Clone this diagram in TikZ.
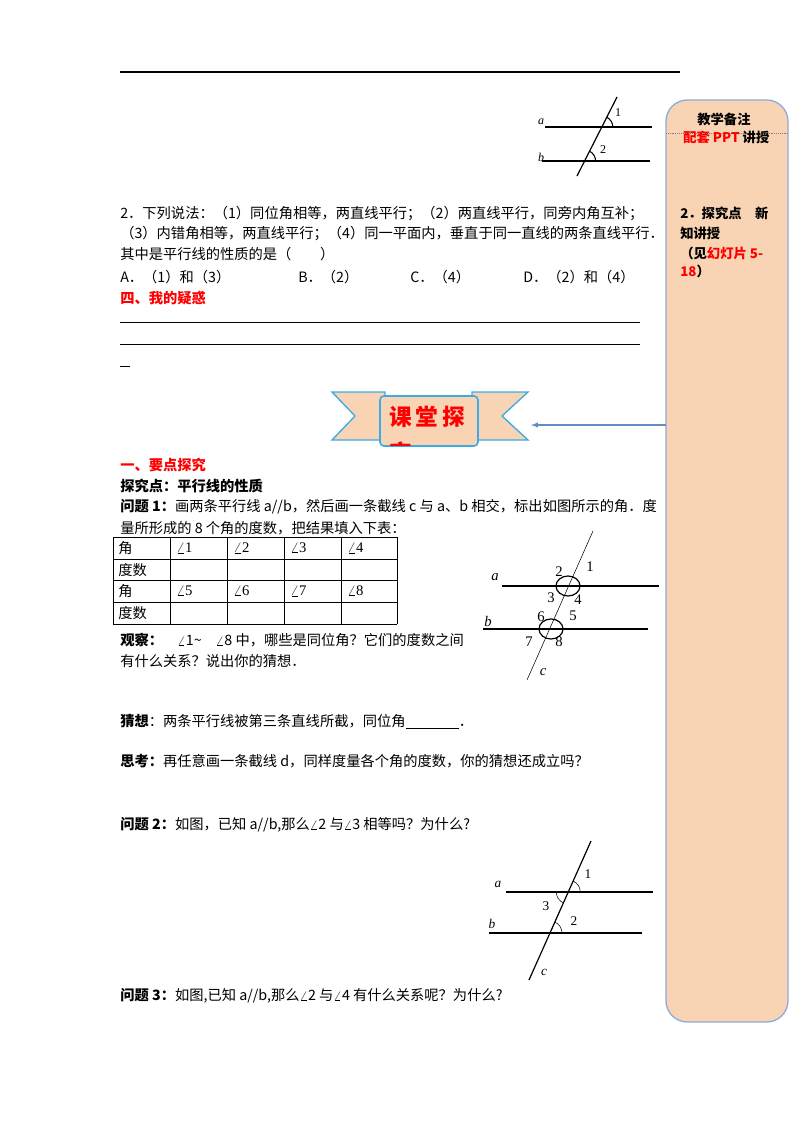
\documentclass[tikz,border=0pt]{standalone}
\usepackage{fontspec}
\setmainfont{Noto Sans CJK SC}
\newfontfamily\lat{Liberation Serif}
\begin{document}
\begin{tikzpicture}[x=0.75pt,y=-0.75pt,
  t/.style={anchor=west,inner sep=0pt,font=\fontsize{10.7}{12}\selectfont},
  sb/.style={anchor=west,inner sep=0pt,font=\bfseries\fontsize{10}{12}\selectfont},
  red/.style={text=red},
  geo/.style={line width=0.9pt},
  lab/.style={inner sep=0pt,font=\lat\itshape\fontsize{9}{10}\selectfont},
  num/.style={inner sep=0pt,font=\lat\fontsize{9}{10}\selectfont}]
\useasboundingbox (0,0) rectangle (800,1132);
\draw[line width=0.8pt] (120,72) -- (680,72);
% sidebar
\draw[fill={rgb,255:red,248;green,212;blue,181},draw={rgb,255:red,143;green,170;blue,220},line width=1pt,rounded corners=16] (666,100) rectangle (788,1022);
\draw[gray,densely dotted] (666,133) -- (788,133);
\node[sb] (sb1) at (697,119) {教学备注};
\node[sb] (sb2) at (683,137) {\textcolor{red}{配套 PPT} 讲授};
\node[sb] (sb3) at (680,213) {2．探究点　新};
\node[sb] (sb4) at (680,233) {知讲授};
\node[sb] (sb5) at (680,253) {（见\textcolor{red}{幻灯片 5-}};
\node[sb] (sb6) at (680,271) {\textcolor{red}{18}）};
% fig 1
\draw[geo] (545,127) -- (652,127);
\draw[geo] (542,161) -- (650,161);
\draw[geo] (617,97) -- (577,176);
\draw[line width=0.8pt] (612.8,127) arc[start angle=0,end angle=-63,radius=11];
\draw[line width=0.8pt] (595.6,161) arc[start angle=0,end angle=-63,radius=11];
\node[lab] (fa) at (541,122) {a};
\node[lab] (fb) at (541,157) {b};
\node[num] (f1) at (618,113) {1};
\node[num] (f2) at (603,150) {2};
% question 2
\node[t] (q1) at (120,214) {2．下列说法：（1）同位角相等，两直线平行；（2）两直线平行，同旁内角互补；};
\node[t] (q2) at (120,234) {（3）内错角相等，两直线平行；（4）同一平面内，垂直于同一直线的两条直线平行．};
\node[t] (q3) at (120,254) {其中是平行线的性质的是（　　）};
\node[t] (oa) at (120,277) {A．（1）和（3）};
\node[t] (ob) at (298,277) {B．（2）};
\node[t] (oc) at (410,277) {C．（4）};
\node[t] (od) at (523,277) {D．（2）和（4）};
\node[t,red,font=\bfseries\fontsize{10.7}{12}\selectfont] (s4) at (120,298) {四、我的疑惑};
\draw (120,322) -- (640,322);
\draw (120,344) -- (640,344);
\draw (120,366) -- (130,366);
% banner
\draw[fill={rgb,255:red,248;green,212;blue,181},draw={rgb,255:red,60;green,170;blue,230},line width=1pt]
 (332,392) -- (385,392) -- (385,440) -- (332,440) -- (355,416) -- cycle;
\draw[fill={rgb,255:red,248;green,212;blue,181},draw={rgb,255:red,60;green,170;blue,230},line width=1pt]
 (528,392) -- (472,392) -- (472,440) -- (528,440) -- (502,416) -- cycle;
\draw[fill={rgb,255:red,248;green,212;blue,181},draw={rgb,255:red,60;green,170;blue,230},line width=1.2pt,rounded corners=3]
 (380,396) -- (478,396) -- (478,446) -- (380,446) -- cycle;
\begin{scope}
\clip (380,396) rectangle (478,445);
\node[anchor=north west,inner sep=0pt,align=left,text=red,font=\bfseries\fontsize{17}{27}\selectfont] (bt) at (389,406) {课\,堂\,探\\究};
\end{scope}
\coordinate (sbL) at (666,425);
\coordinate (arT) at (531,425);
\draw[-latex,draw={rgb,255:red,100;green,140;blue,200},line width=0.8pt] (sbL) -- (arT);
% part one
\node[t,red,font=\bfseries\fontsize{10.7}{12}\selectfont] (p1) at (120,465) {一、要点探究};
\node[t,font=\bfseries\fontsize{10.7}{12}\selectfont] (p2) at (120,486) {探究点：平行线的性质};
\node[t] (p3) at (120,507) {\textbf{问题 1：}画两条平行线 a//b，然后画一条截线 c 与 a、b 相交，标出如图所示的角．度};
\node[t] (p4) at (120,528) {量所形成的 8 个角的度数，把结果填入下表：};
% table
\foreach \yy in {537,559,580,602,624} \draw (113,\yy) -- (397,\yy);
\foreach \xx in {113,170,227,284,341,397} \draw (\xx,537) -- (\xx,624);
\node[t] (c11) at (118,548) {角};
\node[t] (c21) at (118,570) {度数};
\node[t] (c31) at (118,591) {角};
\node[t] (c41) at (118,613) {度数};
\node[t,font=\lat\fontsize{11}{12}\selectfont] (a1) at (176,548) {$\angle$1};
\node[t,font=\lat\fontsize{11}{12}\selectfont] (a2) at (233,548) {$\angle$2};
\node[t,font=\lat\fontsize{11}{12}\selectfont] (a3) at (290,548) {$\angle$3};
\node[t,font=\lat\fontsize{11}{12}\selectfont] (a4) at (347,548) {$\angle$4};
\node[t,font=\lat\fontsize{11}{12}\selectfont] (a5) at (176,591) {$\angle$5};
\node[t,font=\lat\fontsize{11}{12}\selectfont] (a6) at (233,591) {$\angle$6};
\node[t,font=\lat\fontsize{11}{12}\selectfont] (a7) at (290,591) {$\angle$7};
\node[t,font=\lat\fontsize{11}{12}\selectfont] (a8) at (347,591) {$\angle$8};
\node[t] (ob1) at (120,640) {\textbf{观察：}　$\angle$1\textasciitilde{}　$\angle$8 中，哪些是同位角？它们的度数之间};
\node[t] (ob2) at (120,661) {有什么关系？说出你的猜想．};
% fig 2
\draw[line width=1.1pt] (502,586) -- (659,586);
\draw[line width=1.1pt] (483,629) -- (648,629);
\draw (593,531) -- (527,680);
\draw[line width=0.9pt] (568,586) ellipse[x radius=12,y radius=10];
\draw[line width=0.9pt] (551,629) ellipse[x radius=12,y radius=10];
\node[lab,font=\lat\itshape\fontsize{11}{12}\selectfont] (ga) at (495,577) {a};
\node[lab,font=\lat\itshape\fontsize{11}{12}\selectfont] (gb) at (488,621) {b};
\node[lab,font=\lat\itshape\fontsize{11}{12}\selectfont] (gc) at (543,672) {c};
\node[num,font=\lat\fontsize{11}{12}\selectfont] (g1) at (590,567) {1};
\node[num,font=\lat\fontsize{11}{12}\selectfont] (g2) at (559,572) {2};
\node[num,font=\lat\fontsize{11}{12}\selectfont] (g3) at (551,598) {3};
\node[num,font=\lat\fontsize{11}{12}\selectfont] (g4) at (578,600) {4};
\node[num,font=\lat\fontsize{11}{12}\selectfont] (g5) at (573,616) {5};
\node[num,font=\lat\fontsize{11}{12}\selectfont] (g6) at (541,617) {6};
\node[num,font=\lat\fontsize{11}{12}\selectfont] (g7) at (529,642) {7};
\node[num,font=\lat\fontsize{11}{12}\selectfont] (g8) at (559,642) {8};
% text
\node[t] (gu) at (120,722) {\textbf{猜想}：两条平行线被第三条直线所截，同位角\underline{\hspace{40pt}}．};
\node[t] (sk) at (120,761) {\textbf{思考：}再任意画一条截线 d，同样度量各个角的度数，你的猜想还成立吗？};
\node[t] (w2) at (120,825) {\textbf{问题 2：}如图，已知 a//b,那么$\angle$2 与$\angle$3 相等吗？为什么?};
% fig 3
\draw[geo] (506,892) -- (653,892);
\draw[geo] (489,933) -- (642,933);
\draw[geo] (591,841) -- (529,980);
\draw (580.3,892) arc[start angle=0,end angle=-66,radius=12];
\draw (556.3,892) arc[start angle=180,end angle=114,radius=12];
\draw (562,933) arc[start angle=0,end angle=-66,radius=12];
\node[lab,font=\lat\itshape\fontsize{10}{12}\selectfont] (ha) at (498,884) {a};
\node[lab,font=\lat\itshape\fontsize{10}{12}\selectfont] (hb) at (492,924) {b};
\node[lab,font=\lat\itshape\fontsize{10}{12}\selectfont] (hc) at (544,972) {c};
\node[num,font=\lat\fontsize{10}{12}\selectfont] (h1) at (588,874) {1};
\node[num,font=\lat\fontsize{10}{12}\selectfont] (h3) at (546,906) {3};
\node[num,font=\lat\fontsize{10}{12}\selectfont] (h2) at (574,921) {2};
\node[t] (w3) at (120,996) {\textbf{问题 3：}如图,已知 a//b,那么$\angle$2 与$\angle$4 有什么关系呢？为什么?};
\end{tikzpicture}
\end{document}
